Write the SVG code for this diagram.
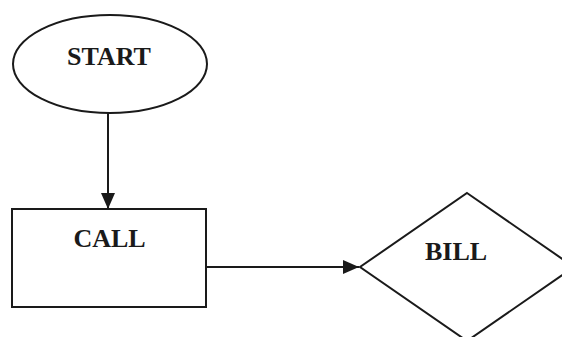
<svg xmlns="http://www.w3.org/2000/svg" width="562" height="337" viewBox="0 0 562 337">
<style>
.shape{fill:#fff;stroke:#1a1a1a;stroke-width:2}
.lbl{font-family:"Liberation Serif","Times New Roman",serif;font-weight:bold;font-size:26px;fill:#1a1a1a;text-anchor:middle}
.conn{stroke:#1a1a1a;stroke-width:2;fill:none}
</style>
<defs>
<marker id="arr" viewBox="0 0 10 10" refX="10" refY="5" markerWidth="8" markerHeight="8" markerUnits="userSpaceOnUse" orient="auto">
<path d="M0,0 L10,5 L0,10 z" fill="#1a1a1a"/>
</marker>
<marker id="arrL" viewBox="0 0 16 14" refX="16" refY="7" markerWidth="16" markerHeight="14" markerUnits="userSpaceOnUse" orient="auto">
<path d="M0,0 L16,7 L0,14 z" fill="#1a1a1a"/>
</marker>
</defs>
<g id="connectors">
<line class="conn" x1="108" y1="113" x2="108" y2="209" marker-end="url(#arrL)"/>
<line class="conn" x1="206" y1="267" x2="359" y2="267" marker-end="url(#arrL)"/>
</g>
<g id="start">
<ellipse class="shape" cx="110" cy="64" rx="97" ry="49"/>
<text class="lbl" x="109" y="65">START</text>
</g>
<g id="call">
<rect class="shape" x="12" y="209" width="194" height="98"/>
<text class="lbl" x="109.5" y="247">CALL</text>
</g>
<g id="bill">
<polygon class="shape" points="467,193 574,267 467,341 360,267"/>
<text class="lbl" x="456" y="260">BILL</text>
</g>
</svg>
